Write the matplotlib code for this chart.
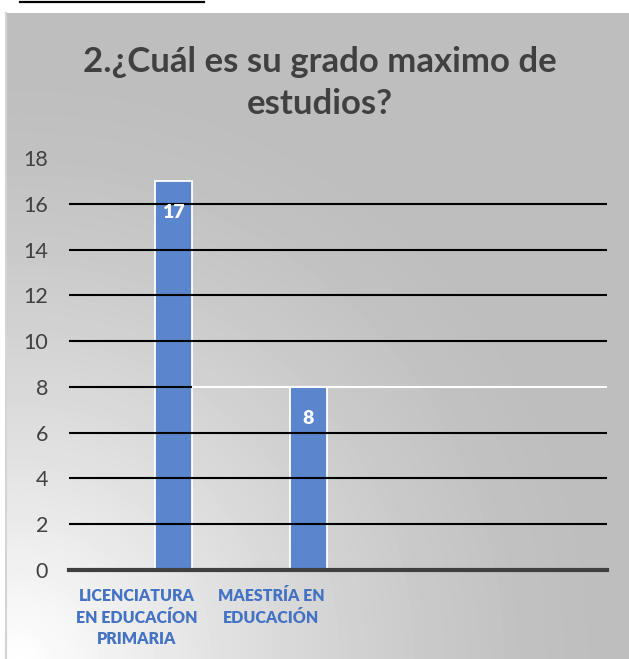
import numpy as np
import matplotlib
matplotlib.use("Agg")
import matplotlib.pyplot as plt
from matplotlib.lines import Line2D

# data
categories = ["LICENCIATURA\nEN EDUCACÍON\nPRIMARIA", "MAESTRÍA EN\nEDUCACIÓN"]
values = [17, 8]
black_grid = [2, 4, 6, 10, 12, 14, 16]
split_grid = 8
yticks = list(range(0, 19, 2))
title = "2.¿Cuál es su grado maximo de\nestudios?"

W, H, DPI = 629, 659, 100
FONT = ["Lato", "DejaVu Sans"]
BAR = "#5B85CD"
DARK = "#404040"

fig = plt.figure(figsize=(W / DPI, H / DPI), dpi=DPI, facecolor="white")

# gray chart area with a light corner glow at the bottom left
bx0, btop = 6, 13
bg = fig.add_axes([bx0 / W, 0, (W - bx0) / W, (H - btop) / H])
yy, xx = np.mgrid[btop:H, bx0:W]
d = np.clip(np.hypot(xx - 20, yy - H) / 580.0, 0, 1)
img = 0.745 + 0.255 * (1 - d) ** 1.4
bg.imshow(img, cmap="gray", vmin=0, vmax=1, aspect="auto", interpolation="bilinear")
bg.set_axis_off()
fig.add_artist(Line2D([bx0 / W, bx0 / W], [0, (H - btop) / H], color="#d4d4d4", lw=1.5))
fig.add_artist(Line2D([20 / W, 204 / W], [1 - 2 / H, 1 - 2 / H], color="black", lw=1.6))

# plot area
left, right, y0, y18 = 69, 607, 570, 158
ax = fig.add_axes([left / W, (H - y0) / H, (right - left) / W, (y0 - y18) / H])
ax.patch.set_alpha(0)

x = np.arange(len(categories))
width = 0.275
bars = ax.bar(x, values, width=width, color=BAR, edgecolor="white", lw=1.3, zorder=2)
for b, v in zip(bars, values):
    ax.annotate(str(v), (b.get_x() + b.get_width() / 2, v), xytext=(0, -32),
                textcoords="offset pixels", ha="center", va="center",
                color="white", fontsize=14, fontweight="heavy", family=FONT, zorder=5)

for g in black_grid:
    ax.axhline(g, color="black", lw=1.5, zorder=3)
cut = x[0] + width / 2
ax.plot([-0.777, cut], [split_grid, split_grid], color="black", lw=1.5, zorder=3,
        solid_capstyle="butt")
ax.plot([cut, 3.223], [split_grid, split_grid], color="white", lw=1.5, zorder=3,
        solid_capstyle="butt")

ax.set_xlim(-0.777, 3.223)
ax.set_ylim(0, 18)
ax.set_yticks(yticks)
# category labels sit one bar-width left of their bars in the reference
ax.set_xticks(x - width)
ax.set_xticklabels(categories, color="#4472C4", fontsize=11.5, fontweight="heavy",
                   family=FONT, linespacing=1.42)
ax.tick_params(axis="y", length=0, pad=15, labelsize=15.5, labelcolor=DARK)
ax.tick_params(axis="x", length=0, pad=13)
for t in ax.get_yticklabels():
    t.set_family(FONT)
for s in ["left", "right", "top"]:
    ax.spines[s].set_visible(False)
ax.spines["bottom"].set_color(DARK)
ax.spines["bottom"].set_linewidth(3)
ax.spines["bottom"].set_zorder(4)

fig.text(320 / W, 1 - 83 / H, title, ha="center", va="center", fontsize=25,
         fontweight="bold", color=DARK, family=FONT, linespacing=1.4)

fig.savefig("out.png", dpi=DPI, facecolor="white")
